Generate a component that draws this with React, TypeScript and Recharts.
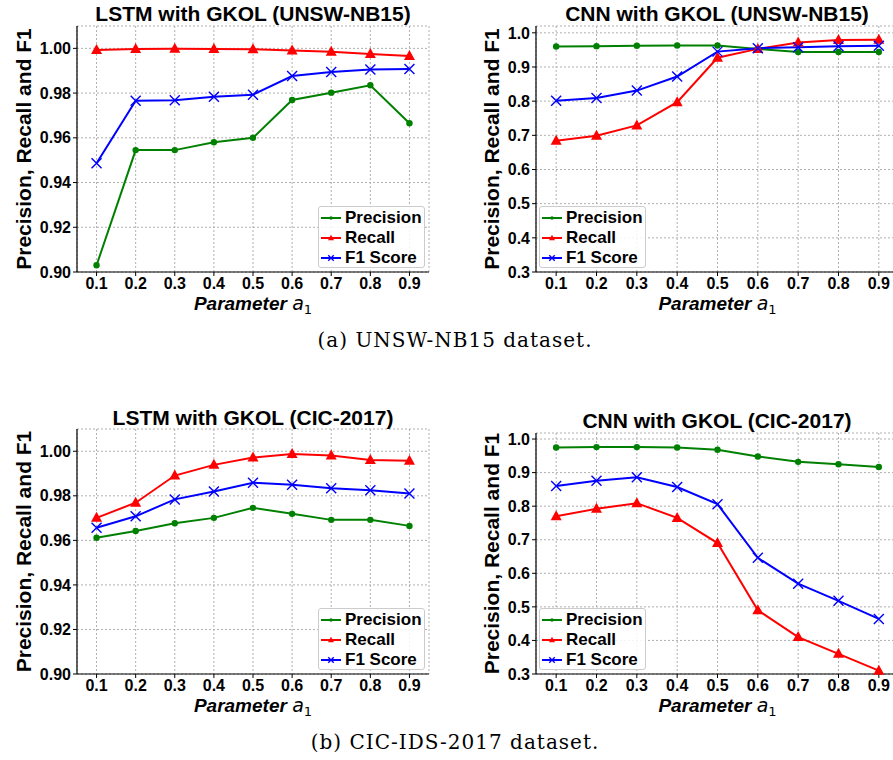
import React from "react";
import { CartesianGrid, Legend, Line, LineChart, XAxis, YAxis } from "recharts";

const params = [0.1, 0.2, 0.3, 0.4, 0.5, 0.6, 0.7, 0.8, 0.9];

// (a) UNSW-NB15
const unswLstmPrecision = [0.903, 0.9545, 0.9545, 0.958, 0.96, 0.9769, 0.9802, 0.9835, 0.9665];
const unswLstmRecall = [0.9993, 0.9997, 0.9998, 0.9997, 0.9996, 0.999, 0.9985, 0.9975, 0.9966];
const unswLstmF1 = [0.9486, 0.9766, 0.9768, 0.9784, 0.9793, 0.9876, 0.9894, 0.9905, 0.9908];

const unswCnnPrecision = [0.96, 0.961, 0.962, 0.963, 0.963, 0.953, 0.944, 0.944, 0.944];
const unswCnnRecall = [0.684, 0.699, 0.729, 0.797, 0.927, 0.953, 0.972, 0.979, 0.98];
const unswCnnF1 = [0.801, 0.809, 0.831, 0.872, 0.945, 0.955, 0.958, 0.961, 0.962];

// (b) CIC-IDS-2017
const cicLstmPrecision = [0.9612, 0.9642, 0.9677, 0.9701, 0.9746, 0.9719, 0.9692, 0.9692, 0.9665];
const cicLstmRecall = [0.9701, 0.9769, 0.9891, 0.9939, 0.9972, 0.9988, 0.9981, 0.9961, 0.9957];
const cicLstmF1 = [0.9657, 0.9708, 0.9784, 0.9819, 0.9859, 0.985, 0.9834, 0.9825, 0.981];

const cicCnnPrecision = [0.975, 0.976, 0.976, 0.975, 0.968, 0.948, 0.932, 0.925, 0.917];
const cicCnnRecall = [0.77, 0.792, 0.809, 0.765, 0.69, 0.49, 0.41, 0.36, 0.31];
const cicCnnF1 = [0.86, 0.876, 0.886, 0.857, 0.806, 0.646, 0.569, 0.518, 0.464];

const lstmTicks = [0.9, 0.92, 0.94, 0.96, 0.98, 1.0];
const cnnTicks = [0.3, 0.4, 0.5, 0.6, 0.7, 0.8, 0.9, 1.0];

const FONT = "'Liberation Sans', Arial, sans-serif";
const GREEN = "#008000";
const RED = "#ff0000";
const BLUE = "#0000ff";

const series = [
  { key: "precision", name: "Precision", color: GREEN, marker: "circle" },
  { key: "recall", name: "Recall", color: RED, marker: "triangle" },
  { key: "f1", name: "F1 Score", color: BLUE, marker: "x" },
];

const Marker = ({ kind, cx, cy, color, s = 1 }: any) => {
  if (kind === "circle") return <circle cx={cx} cy={cy} r={3.2 * s} fill={color} />;
  if (kind === "triangle")
    return (
      <polygon
        points={`${cx},${cy - 6 * s} ${cx - 5.5 * s},${cy + 4 * s} ${cx + 5.5 * s},${cy + 4 * s}`}
        fill={color}
      />
    );
  const d = 5 * s;
  return (
    <path
      d={`M${cx - d},${cy - d}L${cx + d},${cy + d}M${cx - d},${cy + d}L${cx + d},${cy - d}`}
      stroke={color}
      strokeWidth={1.4}
      fill="none"
    />
  );
};

// legend keeps the plotting order, not recharts' alphabetical sort
const LegendBox = ({ payload }: any) => {
  const keys = (payload || []).map((p: any) => p.dataKey);
  return (
    <div
      style={{
        border: "1px solid #cccccc",
        borderRadius: 3,
        background: "rgba(255,255,255,0.85)",
        boxSizing: "border-box",
        width: 107,
        height: 62,
        padding: "1px 0 0 1px",
        fontFamily: FONT,
      }}
    >
      {series
        .filter((s) => keys.includes(s.key))
        .map((s) => (
          <div key={s.key} style={{ display: "flex", alignItems: "center", height: 20 }}>
            <svg width={22} height={12} style={{ marginRight: 3 }}>
              <line x1={1} y1={6} x2={21} y2={6} stroke={s.color} strokeWidth={2} />
              <Marker kind={s.marker} cx={11} cy={6} color={s.color} s={0.55} />
            </svg>
            <span style={{ fontWeight: "bold", fontSize: 17, color: "#000", lineHeight: "20px" }}>
              {s.name}
            </span>
          </div>
        ))}
    </div>
  );
};

type PanelProps = {
  left: number;
  top: number;
  width: number;
  height: number;
  plotTop: number;
  plotBottom: number;
  yAxisWidth: number;
  right: number;
  precision: number[];
  recall: number[];
  f1: number[];
  yDomain: number[];
  yTicks: number[];
  digits: number;
  legendLeft: number;
  legendTop: number;
  xLabelOffset: number;
  yLabelX: number;
};

const Panel = (p: PanelProps) => {
  const data = params.map((a, i) => ({
    a,
    precision: p.precision[i],
    recall: p.recall[i],
    f1: p.f1[i],
  }));
  const tickStyle = { fill: "#000", fontSize: 16, fontWeight: "bold", fontFamily: FONT };
  return (
    <div style={{ position: "absolute", left: p.left, top: p.top }}>
      <LineChart
        width={p.width}
        height={p.height}
        data={data}
        margin={{ top: p.plotTop, right: p.right, bottom: 0, left: 0 }}
      >
        <CartesianGrid stroke="#b0b0b0" strokeDasharray="2 2" />
        <XAxis
          dataKey="a"
          type="number"
          domain={[0.05, 0.95]}
          ticks={params}
          interval={0}
          tickFormatter={(v: number) => v.toFixed(1)}
          tick={tickStyle}
          tickSize={4}
          tickMargin={2}
          height={p.height - p.plotBottom}
          axisLine={{ stroke: "#000", strokeWidth: 1.2 }}
          tickLine={{ stroke: "#000" }}
          label={(lp: any) => {
            const vb = lp.viewBox;
            return (
              <text
                x={vb.x + vb.width / 2}
                y={vb.y + p.xLabelOffset}
                textAnchor="middle"
                fill="#000"
                fontSize={19}
              >
                <tspan fontWeight="bold" fontStyle="italic" fontFamily={FONT}>
                  Parameter{" "}
                </tspan>
                <tspan fontFamily="'DejaVu Sans'" fontStyle="italic">
                  a
                </tspan>
                <tspan fontFamily="'DejaVu Sans'" fontSize={13} dy={4}>
                  1
                </tspan>
              </text>
            );
          }}
        />
        <YAxis
          type="number"
          domain={p.yDomain}
          ticks={p.yTicks}
          interval={0}
          width={p.yAxisWidth}
          tickFormatter={(v: number) => v.toFixed(p.digits)}
          tick={tickStyle}
          tickSize={4}
          tickMargin={2}
          axisLine={{ stroke: "#000", strokeWidth: 1.2 }}
          tickLine={{ stroke: "#000" }}
          label={(lp: any) => {
            const vb = lp.viewBox;
            const x = p.yLabelX;
            const y = vb.y + vb.height / 2;
            return (
              <text
                x={x}
                y={y}
                transform={`rotate(-90 ${x} ${y})`}
                textAnchor="middle"
                dominantBaseline="central"
                fill="#000"
                fontWeight="bold"
                fontSize={21}
                fontFamily={FONT}
              >
                Precision, Recall and F1
              </text>
            );
          }}
        />
        {series.map((s) => (
          <Line
            key={s.key}
            type="linear"
            dataKey={s.key}
            name={s.name}
            stroke={s.color}
            strokeWidth={2}
            isAnimationActive={false}
            activeDot={false}
            dot={(dp: any) => (
              <Marker key={`${s.key}-${dp.index}`} kind={s.marker} cx={dp.cx} cy={dp.cy} color={s.color} />
            )}
          />
        ))}
        <Legend
          layout="vertical"
          align="center"
          verticalAlign="middle"
          content={<LegendBox />}
          wrapperStyle={{ left: p.legendLeft, top: p.legendTop, width: 107, height: 62 }}
        />
      </LineChart>
    </div>
  );
};

const titleStyle = { fontFamily: FONT, fontWeight: "bold" as const, fontSize: 21 };
const captionStyle = { fontFamily: "'DejaVu Serif', serif", fontSize: 20, letterSpacing: 1 };

export default function App() {
  return (
    <div
      style={{
        position: "absolute",
        left: 0,
        top: 0,
        width: 893,
        height: 760,
        overflow: "hidden",
        background: "#fff",
      }}
    >
      <Panel
        left={0}
        top={0}
        width={446}
        height={320}
        plotTop={26}
        plotBottom={272}
        yAxisWidth={77}
        right={17}
        precision={unswLstmPrecision}
        recall={unswLstmRecall}
        f1={unswLstmF1}
        yDomain={[0.9, 1.01]}
        yTicks={lstmTicks}
        digits={2}
        legendLeft={318}
        legendTop={206}
        xLabelOffset={38}
        yLabelX={23}
      />
      <Panel
        left={446}
        top={0}
        width={460}
        height={320}
        plotTop={26}
        plotBottom={272}
        yAxisWidth={90}
        right={7}
        precision={unswCnnPrecision}
        recall={unswCnnRecall}
        f1={unswCnnF1}
        yDomain={[0.3, 1.02]}
        yTicks={cnnTicks}
        digits={1}
        legendLeft={93}
        legendTop={206}
        xLabelOffset={38}
        yLabelX={45}
      />
      <Panel
        left={0}
        top={400}
        width={446}
        height={320}
        plotTop={29}
        plotBottom={274}
        yAxisWidth={77}
        right={17}
        precision={cicLstmPrecision}
        recall={cicLstmRecall}
        f1={cicLstmF1}
        yDomain={[0.9, 1.01]}
        yTicks={lstmTicks}
        digits={2}
        legendLeft={318}
        legendTop={208}
        xLabelOffset={38}
        yLabelX={23}
      />
      <Panel
        left={446}
        top={400}
        width={460}
        height={320}
        plotTop={33}
        plotBottom={274}
        yAxisWidth={90}
        right={7}
        precision={cicCnnPrecision}
        recall={cicCnnRecall}
        f1={cicCnnF1}
        yDomain={[0.3, 1.018]}
        yTicks={cnnTicks}
        digits={1}
        legendLeft={93}
        legendTop={208}
        xLabelOffset={38}
        yLabelX={45}
      />
      <svg
        width={893}
        height={760}
        style={{ position: "absolute", left: 0, top: 0, pointerEvents: "none" }}
      >
        <text x={253} y={21} textAnchor="middle" {...titleStyle}>
          LSTM with GKOL (UNSW-NB15)
        </text>
        <text x={717} y={21} textAnchor="middle" {...titleStyle}>
          CNN with GKOL (UNSW-NB15)
        </text>
        <text x={253} y={425} textAnchor="middle" {...titleStyle}>
          LSTM with GKOL (CIC-2017)
        </text>
        <text x={717} y={428} textAnchor="middle" {...titleStyle}>
          CNN with GKOL (CIC-2017)
        </text>
        <text x={455} y={347} textAnchor="middle" {...captionStyle}>
          (a) UNSW-NB15 dataset.
        </text>
        <text x={455} y={749} textAnchor="middle" {...captionStyle}>
          (b) CIC-IDS-2017 dataset.
        </text>
      </svg>
    </div>
  );
}
